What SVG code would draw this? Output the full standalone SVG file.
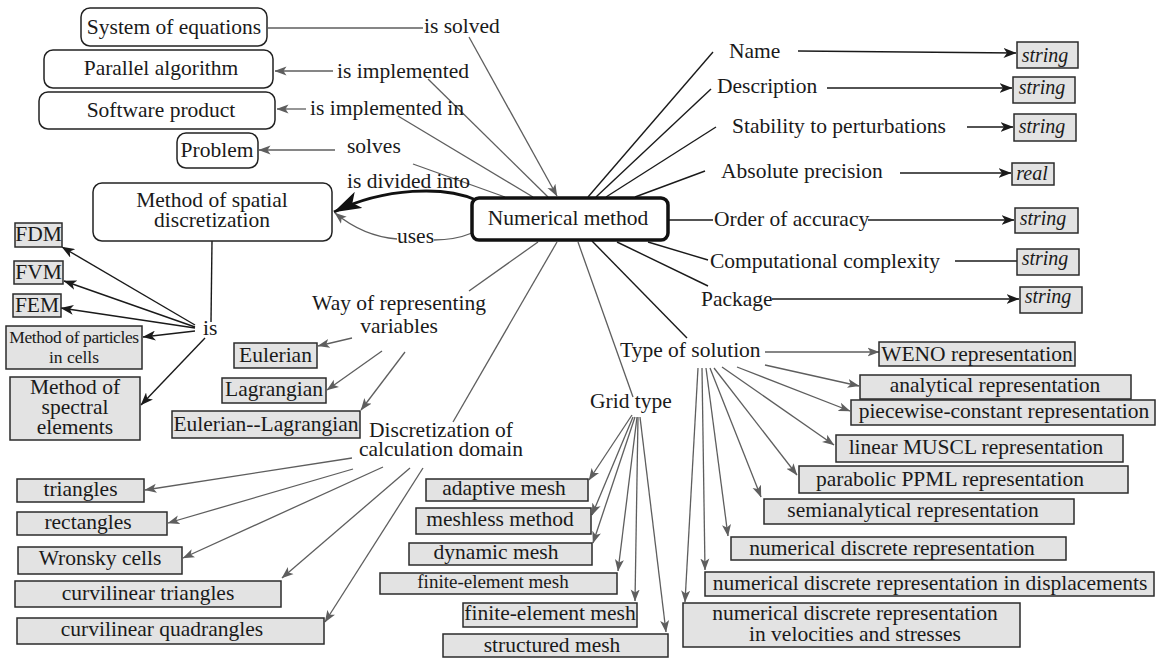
<svg xmlns="http://www.w3.org/2000/svg" width="1164" height="659" viewBox="0 0 1164 659">
<style>
.t{font-family:"Liberation Serif","Times New Roman",serif;font-size:21.5px;fill:#1a1a1a}
.c{text-anchor:middle}
.i{font-style:italic;font-size:20px}
.s{font-size:19px}
.nb{fill:#fff;stroke:#222;stroke-width:1.5}
.gb{fill:#e3e3e3;stroke:#2b2b2b;stroke-width:1.5}
.lg{stroke:#5e5e5e;stroke-width:1.3;fill:none}
.lb{stroke:#1a1a1a;stroke-width:1.4;fill:none}
.ag{marker-end:url(#mg)}
.ab{marker-end:url(#mb)}
</style>
<defs>
<marker id="mg" viewBox="0 0 12 10" refX="11.5" refY="5" markerWidth="12" markerHeight="10" markerUnits="userSpaceOnUse" orient="auto"><path d="M0,0.5 L12,5 L0,9.5 L3,5 z" fill="#5e5e5e"/></marker>
<marker id="mb" viewBox="0 0 13 10" refX="12.5" refY="5" markerWidth="13" markerHeight="10" markerUnits="userSpaceOnUse" orient="auto"><path d="M0,0 L13,5 L0,10 L3.5,5 z" fill="#1a1a1a"/></marker>
<marker id="mbig" viewBox="0 0 28 18" refX="27.5" refY="9" markerWidth="28" markerHeight="18" markerUnits="userSpaceOnUse" orient="auto"><path d="M0,0 L28,9 L0,18 L7,9 z" fill="#111"/></marker>
</defs>

<g id="connectors">
<!-- upper-left relations -->
<line class="lg" x1="268" y1="28" x2="423" y2="28"/>
<line class="lg ag" x1="469" y1="37" x2="557" y2="196"/>
<line class="lg ag" x1="333" y1="71" x2="275" y2="71"/>
<line class="lg" x1="428" y1="79" x2="548" y2="197"/>
<line class="lg ag" x1="306" y1="109" x2="277" y2="109"/>
<line class="lg" x1="398" y1="116" x2="533" y2="197"/>
<line class="lg ag" x1="335" y1="150" x2="259" y2="150"/>
<line class="lg" x1="413" y1="164" x2="505" y2="197"/>
<path d="M476,200 C445,186 385,187 334,212" stroke="#111" stroke-width="3" fill="none" marker-end="url(#mbig)"/>
<path class="lg" d="M472,233 Q455,240 434,240"/>
<path class="lg ag" d="M397,239 C372,237 352,227 335,213"/>
<!-- attributes -->
<line class="lb" x1="588" y1="197" x2="713" y2="52"/>
<line class="lb ab" x1="798" y1="51" x2="1016" y2="53"/>
<line class="lb" x1="596" y1="197" x2="711" y2="89"/>
<line class="lb ab" x1="827" y1="88" x2="1012" y2="88"/>
<line class="lb" x1="606" y1="197" x2="716" y2="127"/>
<line class="lb ab" x1="967" y1="127" x2="1013" y2="127"/>
<line class="lb" x1="635" y1="197" x2="705" y2="171"/>
<line class="lb ab" x1="900" y1="173" x2="1011" y2="173"/>
<line class="lb" x1="668" y1="220" x2="713" y2="220"/>
<line class="lb ab" x1="868" y1="220" x2="1014" y2="220"/>
<line class="lb" x1="648" y1="242" x2="708" y2="260"/>
<line class="lb" x1="955" y1="261" x2="1017" y2="261"/>
<line class="lb" x1="617" y1="242" x2="708" y2="286"/>
<line class="lb ab" x1="772" y1="299" x2="1019" y2="299"/>
<!-- from numerical method downward -->
<line class="lb" x1="592" y1="241" x2="687" y2="338"/>
<line class="lg" x1="578" y1="242" x2="633" y2="397"/>
<line class="lg" x1="557" y1="242" x2="453" y2="422"/>
<line class="lg" x1="538" y1="242" x2="469" y2="291"/>
<!-- spatial discretization "is" -->
<line class="lb" x1="212" y1="241" x2="211" y2="322"/>
<line class="lb ab" x1="195" y1="325" x2="62" y2="247"/>
<line class="lb ab" x1="195" y1="327" x2="64" y2="281"/>
<line class="lb ab" x1="195" y1="328" x2="61" y2="308"/>
<line class="lb ab" x1="195" y1="331" x2="143" y2="337"/>
<line class="lb ab" x1="205" y1="338" x2="141" y2="405"/>
<!-- way of representing variables -->
<line class="lg ag" x1="352" y1="338" x2="318" y2="346"/>
<line class="lg ag" x1="382" y1="351" x2="327" y2="390"/>
<line class="lg ag" x1="405" y1="352" x2="361" y2="410"/>
<!-- discretization of calculation domain -->
<line class="lg ag" x1="352" y1="458" x2="145" y2="490"/>
<line class="lg ag" x1="353" y1="469" x2="168" y2="523"/>
<line class="lg ag" x1="383" y1="467" x2="183" y2="558"/>
<line class="lg ag" x1="410" y1="468" x2="282" y2="578"/>
<line class="lg ag" x1="423" y1="468" x2="325" y2="622"/>
<!-- grid type -->
<line class="lg ag" x1="632" y1="415" x2="589" y2="480"/>
<line class="lg ag" x1="633" y1="417" x2="592" y2="515"/>
<line class="lg ag" x1="635" y1="417" x2="593" y2="543"/>
<line class="lg ag" x1="637" y1="417" x2="618" y2="571"/>
<line class="lg ag" x1="638" y1="417" x2="635" y2="601"/>
<line class="lg ag" x1="640" y1="417" x2="666" y2="632"/>
<!-- type of solution -->
<line class="lg ag" x1="765" y1="352" x2="879" y2="352"/>
<line class="lg ag" x1="765" y1="365" x2="859" y2="386"/>
<line class="lg ag" x1="737" y1="367" x2="850" y2="411"/>
<line class="lg ag" x1="722" y1="367" x2="834" y2="445"/>
<line class="lg ag" x1="714" y1="368" x2="797" y2="475"/>
<line class="lg ag" x1="710" y1="368" x2="761" y2="497"/>
<line class="lg ag" x1="706" y1="368" x2="728" y2="536"/>
<line class="lg ag" x1="702" y1="368" x2="705" y2="570"/>
<line class="lg ag" x1="698" y1="368" x2="685" y2="602"/>
</g>

<g id="labels">
<text class="t" x="424" y="33">is solved</text>
<text class="t" x="337" y="78">is implemented</text>
<text class="t" x="310" y="115">is implemented in</text>
<text class="t" x="347" y="153">solves</text>
<text class="t" x="347" y="188">is divided into</text>
<text class="t" x="397" y="243">uses</text>
<text class="t" x="203" y="335">is</text>
</g>

<g id="n-system"><rect class="nb" x="81" y="8" width="186" height="38" rx="9"/><text class="t c" x="174" y="34">System of equations</text></g>
<g id="n-parallel"><rect class="nb" x="44" y="50" width="229" height="38" rx="9"/><text class="t c" x="161" y="75">Parallel algorithm</text></g>
<g id="n-software"><rect class="nb" x="39" y="92" width="236" height="37" rx="9"/><text class="t c" x="161" y="117">Software product</text></g>
<g id="n-problem"><rect class="nb" x="177" y="133" width="81" height="35" rx="9"/><text class="t c" x="217" y="157">Problem</text></g>
<g id="n-spatial"><rect class="nb" x="93" y="183" width="239" height="58" rx="9"/><text class="t c" x="212" y="207">Method of spatial</text><text class="t c" x="212" y="227">discretization</text></g>
<g id="n-numerical"><rect x="472" y="198" width="196" height="42" rx="7" fill="#fff" stroke="#111" stroke-width="3.5"/><text class="t c" x="568" y="225">Numerical method</text></g>

<g id="n-name"><text class="t" x="729" y="58">Name</text></g>
<g id="n-description"><text class="t" x="717" y="93">Description</text></g>
<g id="n-stability"><text class="t" x="732" y="133">Stability to perturbations</text></g>
<g id="n-absolute"><text class="t" x="721" y="178">Absolute precision</text></g>
<g id="n-order"><text class="t" x="714" y="226">Order of accuracy</text></g>
<g id="n-complexity"><text class="t" x="710" y="268">Computational complexity</text></g>
<g id="n-package"><text class="t" x="701" y="306">Package</text></g>
<g id="n-type"><text class="t" x="620" y="357">Type of solution</text></g>
<g id="n-grid"><text class="t" x="590" y="408">Grid type</text></g>
<g id="n-way"><text class="t c" x="399" y="310">Way of representing</text><text class="t c" x="399" y="333">variables</text></g>
<g id="n-discr"><text class="t c" x="441" y="437">Discretization of</text><text class="t c" x="441" y="456">calculation domain</text></g>

<g id="v-name"><rect class="gb" x="1017" y="42" width="61" height="26"/><text class="t c i" x="1045" y="62">string</text></g>
<g id="v-description"><rect class="gb" x="1013" y="77" width="62" height="26"/><text class="t c i" x="1042" y="94">string</text></g>
<g id="v-stability"><rect class="gb" x="1014" y="114" width="62" height="27"/><text class="t c i" x="1042" y="133">string</text></g>
<g id="v-absolute"><rect class="gb" x="1012" y="163" width="42" height="22"/><text class="t c i" x="1032" y="180">real</text></g>
<g id="v-order"><rect class="gb" x="1015" y="208" width="63" height="25"/><text class="t c i" x="1043" y="225">string</text></g>
<g id="v-complexity"><rect class="gb" x="1017" y="249" width="62" height="26"/><text class="t c i" x="1045" y="265">string</text></g>
<g id="v-package"><rect class="gb" x="1020" y="287" width="62" height="26"/><text class="t c i" x="1048" y="303">string</text></g>

<g id="b-fdm"><rect class="gb" x="15" y="223" width="47" height="24"/><text class="t c" x="38.5" y="241">FDM</text></g>
<g id="b-fvm"><rect class="gb" x="14" y="261" width="49" height="23"/><text class="t c" x="38.5" y="279">FVM</text></g>
<g id="b-fem"><rect class="gb" x="13" y="294" width="48" height="23"/><text class="t c" x="37" y="312">FEM</text></g>
<g id="b-particles"><rect class="gb" x="6" y="326" width="136" height="43"/><text class="t c" x="74" y="343" style="font-size:17.5px;letter-spacing:-0.4px">Method of particles</text><text class="t c" x="74" y="363" style="font-size:17.5px">in cells</text></g>
<g id="b-spectral"><rect class="gb" x="10" y="377" width="130" height="63"/><text class="t c" x="75" y="394">Method of</text><text class="t c" x="75" y="414">spectral</text><text class="t c" x="75" y="434">elements</text></g>

<g id="b-eulerian"><rect class="gb" x="234" y="343" width="83" height="25"/><text class="t c" x="275.5" y="362">Eulerian</text></g>
<g id="b-lagrangian"><rect class="gb" x="222" y="378" width="104" height="25"/><text class="t c" x="274" y="396">Lagrangian</text></g>
<g id="b-el"><rect class="gb" x="172" y="411" width="188" height="27"/><text class="t c" x="266" y="431">Eulerian--Lagrangian</text></g>

<g id="b-triangles"><rect class="gb" x="17" y="479" width="127" height="23"/><text class="t c" x="80.5" y="496">triangles</text></g>
<g id="b-rectangles"><rect class="gb" x="17" y="512" width="150" height="23"/><text class="t c" x="88" y="529">rectangles</text></g>
<g id="b-wronsky"><rect class="gb" x="18" y="547" width="164" height="27"/><text class="t c" x="100" y="565">Wronsky cells</text></g>
<g id="b-curvtri"><rect class="gb" x="15" y="581" width="266" height="26"/><text class="t c" x="148" y="600">curvilinear triangles</text></g>
<g id="b-curvquad"><rect class="gb" x="17" y="618" width="307" height="26"/><text class="t c" x="162" y="636">curvilinear quadrangles</text></g>

<g id="b-adaptive"><rect class="gb" x="426" y="479" width="162" height="22"/><text class="t c" x="504" y="495">adaptive mesh</text></g>
<g id="b-meshless"><rect class="gb" x="416" y="508" width="175" height="26"/><text class="t c" x="500" y="526">meshless method</text></g>
<g id="b-dynamic"><rect class="gb" x="409" y="543" width="183" height="22"/><text class="t c" x="496" y="559">dynamic mesh</text></g>
<g id="b-fe1"><rect class="gb" x="380" y="573" width="237" height="21"/><text class="t c s" x="493" y="588">finite-element mesh</text></g>
<g id="b-fe2"><rect class="gb" x="463" y="603" width="174" height="24"/><text class="t c" x="550" y="620">finite-element mesh</text></g>
<g id="b-structured"><rect class="gb" x="443" y="634" width="225" height="23"/><text class="t c" x="552" y="652">structured mesh</text></g>

<g id="b-weno"><rect class="gb" x="879" y="342" width="196" height="24"/><text class="t c" x="977" y="361">WENO representation</text></g>
<g id="b-analytical"><rect class="gb" x="860" y="375" width="271" height="24"/><text class="t c" x="995" y="392">analytical representation</text></g>
<g id="b-piecewise"><rect class="gb" x="851" y="400" width="304" height="25"/><text class="t c" x="1004" y="418">piecewise-constant representation</text></g>
<g id="b-muscl"><rect class="gb" x="836" y="435" width="287" height="27"/><text class="t c" x="976" y="454">linear MUSCL representation</text></g>
<g id="b-ppml"><rect class="gb" x="799" y="466" width="329" height="27"/><text class="t c" x="950" y="486">parabolic PPML representation</text></g>
<g id="b-semi"><rect class="gb" x="764" y="499" width="310" height="25"/><text class="t c" x="913" y="517">semianalytical representation</text></g>
<g id="b-numdisc"><rect class="gb" x="731" y="537" width="335" height="23"/><text class="t c" x="892" y="555">numerical discrete representation</text></g>
<g id="b-displ"><rect class="gb" x="705" y="572" width="449" height="24"/><text class="t c" x="930" y="590">numerical discrete representation in displacements</text></g>
<g id="b-veloc"><rect class="gb" x="683" y="603" width="337" height="44"/><text class="t c" x="855" y="620">numerical discrete representation</text><text class="t c" x="855" y="641">in velocities and stresses</text></g>
</svg>
